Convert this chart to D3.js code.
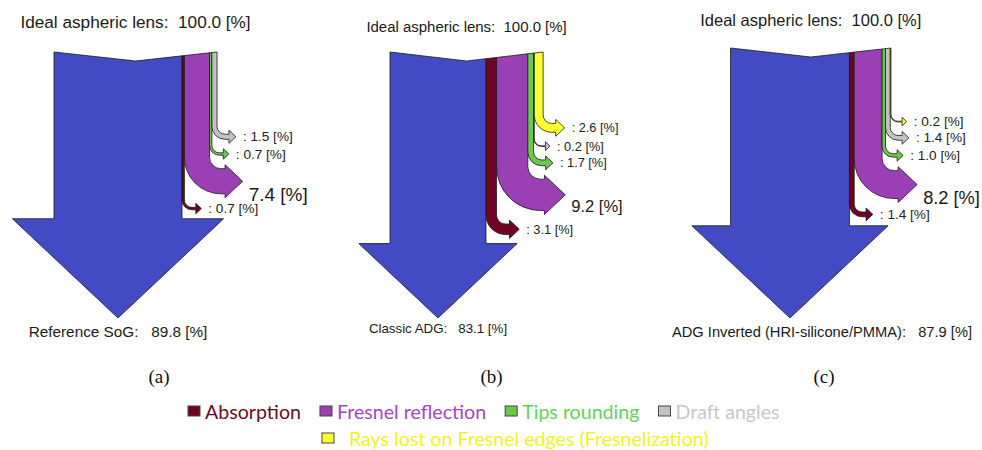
<!DOCTYPE html>
<html>
<head>
<meta charset="utf-8">
<script src="https://cdn.jsdelivr.net/npm/d3@7"></script>
<style>
  body { margin: 0; background: #fff; }
  text { white-space: pre; }
</style>
</head>
<body>
<div id="graf"></div>
<script>
// Sankey de pérdidas ópticas, tres variantes de lente

// Datos
const panels = ['(a)', '(b)', '(c)']
const outputNames = ['Reference SoG', 'Classic ADG', 'ADG Inverted (HRI-silicone/PMMA)']
const inputName = 'Ideal aspheric lens'
const inputValue = 100.0
const outputValues = [89.8, 83.1, 87.9]
const lossNames = ['Absorption', 'Fresnel reflection', 'Tips rounding', 'Draft angles',
                   'Rays lost on Fresnel edges (Fresnelization)']
const absorption     = [0.7, 3.1, 1.4]
const fresnel        = [7.4, 9.2, 8.2]
const tips           = [0.7, 1.7, 1.0]
const draft          = [1.5, 0.2, 1.4]
const fresnelization = [null, 2.6, 0.2]

// Estilos
const lossColors = ['#6d0422', '#9b40b4', '#68c94c', '#c2c2c2', '#ffff33']
const legendColors = ['#6d0a26', '#a445c4', '#62d25a', '#c8c8c8', '#f2f22a']
const blue = '#434bc4'
const font = "'Liberation Sans', Arial, sans-serif"

// Layout de cada panel
const cx     = [118, 438, 790]   // centro del tronco
const topY   = [52, 52, 48]
const titleY = [28, 32, 25.5]
const outY   = [337, 333, 337]
const outDx  = [0, 0, 32]
const k      = [1, 0.87, 0.96]   // factor de tamaño de texto
const kSmall = [1, 0.94, 1]
const tipY = 318
const gap = 13.5

svg = d3.select('#graf').append('svg')
        .attr('width', 982)
        .attr('height', 450)
        .attr('font-family', font)

// Escaladores
wLoss  = d3.scaleLinear().domain([0, 10]).range([0, 34])
wTrunk = d3.scaleLinear().domain([83.1, 89.8]).range([96, 128])
letterX = d3.scalePoint().domain(panels).range([159, 824])
fmt = d3.format('.1f')

function arrow(x0, w, yb, topA, topB) {
  const r = 7 + w * 0.18, xr = x0 + w, xh = xr + r + 4
  const e = 4, half = w / 2 + e, len = half * 1.06
  const p = d3.path()
  p.moveTo(x0, topA)
  p.lineTo(xr, topB)
  p.lineTo(xr, yb - r)
  p.arc(xr + r, yb - r, r, Math.PI, Math.PI / 2, true)
  p.lineTo(xh, yb)
  p.lineTo(xh, yb - e)
  p.lineTo(xh + len, yb + w / 2)
  p.lineTo(xh, yb + w + e)
  p.lineTo(xh, yb + w)
  p.lineTo(xr + r, yb + w)
  p.arc(xr + r, yb - r, r + w, Math.PI / 2, Math.PI, false)
  p.closePath()
  return { d: p.toString(), tipX: xh + len, cy: yb + w / 2 }
}

panels.forEach((name, i) => {
  g = svg.append('g')
  tw = wTrunk(outputValues[i])
  flows = [absorption[i], fresnel[i], tips[i], draft[i], fresnelization[i]]
  lw = flows.map(v => v == null ? 0 : wLoss(v))
  total = tw + d3.sum(lw)
  xL = cx[i] - tw / 2
  xR = xL + total
  xMid = (xL + xR) / 2
  yTop = topY[i]
  const topAt = x => x <= xMid
    ? yTop + (x - xL) / (xMid - xL) * 9
    : yTop + 9 - (x - xMid) / (xR - xMid) * 9

  hh = tw * 0.825
  base = tipY - hh * 0.94
  xT = cx[i] + tw / 2

  // tronco principal
  trunk = d3.path()
  trunk.moveTo(xL, yTop)
  trunk.lineTo(xMid, yTop + 9)
  trunk.lineTo(xT, topAt(xT))
  trunk.lineTo(xT, base)
  trunk.lineTo(cx[i] + hh, base)
  trunk.lineTo(cx[i], tipY)
  trunk.lineTo(cx[i] - hh, base)
  trunk.lineTo(xL, base)
  trunk.closePath()
  g.append('path')
    .attr('d', trunk.toString())
    .attr('fill', blue)
    .attr('stroke', '#1a1a1a')
    .attr('stroke-width', 0.8)

  // pérdidas: de abajo hacia arriba
  x0 = xT
  bottom = base - 9
  flows.forEach((v, j) => {
    if (v == null) return
    w = lw[j]
    yb = bottom - w
    a = arrow(x0, w, yb, topAt(x0), topAt(x0 + w))
    g.append('path')
      .attr('d', a.d)
      .attr('fill', lossColors[j])
      .attr('stroke', '#1a1a1a')
      .attr('stroke-width', 0.8)
    if (j == 1) {
      g.append('text')
        .attr('x', a.tipX + 6)
        .attr('y', a.cy + 13 * k[i])
        .attr('dominant-baseline', 'central')
        .attr('font-size', 19 * k[i])
        .attr('fill', '#1a1a1a')
        .text(`${fmt(v)} [%]`)
    } else {
      g.append('text')
        .attr('x', a.tipX + 7)
        .attr('y', a.cy)
        .attr('dominant-baseline', 'central')
        .attr('font-size', 13.6 * kSmall[i])
        .attr('fill', '#222')
        .text(`: ${fmt(v)} [%]`)
    }
    x0 += w
    bottom = yb - gap
  })

  g.append('text')
    .attr('x', xMid)
    .attr('y', titleY[i])
    .attr('text-anchor', 'middle')
    .attr('font-size', 17.2 * k[i])
    .attr('fill', '#1a1a1a')
    .text(`${inputName}:  ${fmt(inputValue)} [%]`)

  g.append('text')
    .attr('x', cx[i] + outDx[i])
    .attr('y', outY[i])
    .attr('text-anchor', 'middle')
    .attr('font-size', 15.3 * k[i])
    .attr('fill', '#1a1a1a')
    .text(`${outputNames[i]}:   ${fmt(outputValues[i])} [%]`)

  svg.append('text')
    .attr('x', letterX(name))
    .attr('y', 383)
    .attr('text-anchor', 'middle')
    .attr('font-family', "'Liberation Serif', 'Times New Roman', serif")
    .attr('font-size', 19)
    .attr('fill', '#111')
    .text(name)
})

// Leyenda
leg = svg.append('g').attr('font-family', 'Lato, sans-serif')
probe = leg.append('text').attr('font-size', 18).text(lossNames[4])
fs = 18 * 360 / probe.node().getComputedTextLength()
probe.remove()

lx = 188
pos = []
lossNames.slice(0, 4).forEach((n, j) => {
  pos.push(lx)
  leg.append('rect')
    .attr('x', lx).attr('y', 406)
    .attr('width', 12).attr('height', 10)
    .attr('fill', lossColors[j])
    .attr('stroke', '#444')
  t = leg.append('text')
    .attr('x', lx + 17)
    .attr('y', 411)
    .attr('dominant-baseline', 'central')
    .attr('font-size', fs)
    .attr('fill', legendColors[j])
    .text(n)
  lx += 17 + t.node().getComputedTextLength() + 19
})
leg.append('rect')
  .attr('x', pos[1] + 2).attr('y', 433)
  .attr('width', 12).attr('height', 10)
  .attr('fill', lossColors[4])
  .attr('stroke', '#444')
leg.append('text')
  .attr('x', pos[1] + 29)
  .attr('y', 438)
  .attr('dominant-baseline', 'central')
  .attr('font-size', fs)
  .attr('fill', legendColors[4])
  .text(lossNames[4])
</script>
</body>
</html>
